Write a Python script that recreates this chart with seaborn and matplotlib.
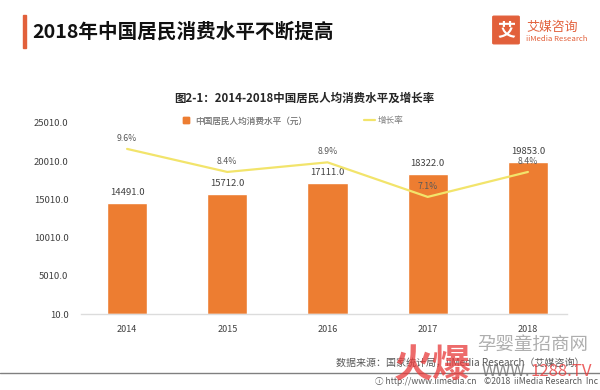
import pandas as pd
import matplotlib.pyplot as plt
import matplotlib.patches as mpatches
from matplotlib.lines import Line2D
import seaborn as sns

years = ['2014', '2015', '2016', '2017', '2018']
consumption = [14491.0, 15712.0, 17111.0, 18322.0, 19853.0]
growth = [9.6, 8.4, 8.9, 7.1, 8.4]
y_ticks = [10, 5010, 10010, 15010, 20010, 25010]

sns.set_style('white')
plt.rcParams['font.family'] = ['Noto Sans CJK SC', 'DejaVu Sans']

BAR = '#ED7D31'
LINE = '#F2E46B'
TXT = '#404040'
BRAND = '#E2603B'

df = pd.DataFrame({'year': years, 'value': consumption, 'growth': growth})

fig = plt.figure(figsize=(6, 3.9), dpi=100)
W, H = 600, 390


def fx(px):
    return px / W


def fy(py):
    return 1 - py / H


ax = fig.add_axes([fx(81), fy(314), 486 / W, 191 / H])

sns.barplot(data=df, x='year', y='value', color=BAR, width=0.4,
            saturation=1, ax=ax)
ax.set_ylim(10, 25010)
ax.set_xlim(-0.5, 4.5)
ax.set_yticks(y_ticks)
ax.set_yticklabels([f'{v:.1f}' for v in y_ticks])
ax.set_xlabel('')
ax.set_ylabel('')
ax.tick_params(axis='both', length=0, colors=TXT)
ax.tick_params(axis='y', labelsize=6.8, pad=9)
ax.tick_params(axis='x', labelsize=6.5, pad=8)
for s in ['top', 'right', 'left']:
    ax.spines[s].set_visible(False)
ax.spines['bottom'].set_color('#dcdcdc')
ax.spines['bottom'].set_linewidth(1)

for i, v in enumerate(consumption):
    ax.annotate(f'{v:.1f}', (i, v), xytext=(0, 7.5), textcoords='offset points',
                ha='center', va='center', fontsize=6.8, color=TXT)

# 增长率 on a hidden secondary axis
ax2 = ax.twinx()
sns.lineplot(x=list(range(len(years))), y=growth, color=LINE, linewidth=1.6,
             ax=ax2)
ax2.set_ylim(1.0, 10.95)
ax2.set_xlim(-0.46, 4.39)
ax2.axis('off')
for i, g in enumerate(growth):
    ax2.annotate(f'{g}%', (i, g), xytext=(0, 7.5), textcoords='offset points',
                 ha='center', va='center', fontsize=6.3, color='#595959')

# legend
leg1 = fig.legend([Line2D([], [], marker='s', linestyle='none', color=BAR,
                          markersize=4.5)],
                  ['中国居民人均消费水平（元）'], loc='center left',
                  bbox_to_anchor=(fx(183), fy(121)), frameon=False,
                  fontsize=6.2, labelcolor='#7f7f7f', handlelength=0.8,
                  handletextpad=0.6, borderpad=0, borderaxespad=0)
fig.add_artist(leg1)
fig.legend([Line2D([], [], color=LINE, linewidth=1.6)], ['增长率'],
           loc='center left', bbox_to_anchor=(fx(364), fy(121)),
           frameon=False, fontsize=6.2, labelcolor='#7f7f7f',
           handlelength=1.3, handletextpad=0.3, borderpad=0, borderaxespad=0)

# chart title
fig.text(fx(304), fy(98), '图2-1：2014-2018中国居民人均消费水平及增长率',
         ha='center', va='center', fontsize=8.25, fontweight='bold',
         color='#262626')

# header
fig.patches.append(mpatches.Rectangle((fx(23), fy(48)), 3 / W, 33 / H,
                                      transform=fig.transFigure,
                                      color=BRAND))
fig.text(fx(32), fy(32), '2018年中国居民消费水平不断提高', ha='left',
         va='center', fontsize=14.1, fontweight='bold', color='#111111')

# logo
fig.patches.append(mpatches.FancyBboxPatch((fx(494), fy(43)), 24 / W, 26 / H,
                                           boxstyle='round,pad=0.002',
                                           transform=fig.transFigure,
                                           color=BRAND))
fig.text(fx(506), fy(30), '艾', ha='center', va='center', fontsize=13,
         fontweight='bold', color='white')
fig.text(fx(526), fy(27), '艾媒咨询', ha='left', va='center',
         fontsize=9.3, color=BRAND)
fig.text(fx(526), fy(39), 'iiMedia Research', ha='left', va='center',
         fontsize=5.6, color=BRAND)

# source and footer
fig.text(fx(584), fy(363), '数据来源：国家统计局，iiMedia Research（艾媒咨询）',
         ha='right', va='center', fontsize=7.2, color='#595959')
fig.add_artist(Line2D([0, 1], [fy(373), fy(373)],
                      transform=fig.transFigure, color='#808080', linewidth=1))
fig.text(fx(598), fy(381),
         '\u24D8 http://www.iimedia.cn    ©2018  iiMedia Research  Inc',
         ha='right', va='center', fontsize=6.2, color='#595959')

# watermark
fig.text(fx(394), fy(366), '火爆', ha='left', va='center', fontsize=28,
         fontweight='bold', color='#E83A3A', alpha=0.75)
fig.text(fx(477), fy(345), '孕婴童招商网', ha='left', va='center',
         fontsize=13.3, color='#9a9a9a', alpha=0.8)
fig.text(fx(482), fy(372), 'WWW.', ha='left', va='center',
         fontsize=12, color='#707070', alpha=0.8)
fig.text(fx(530), fy(372), '1288.TV', ha='left', va='center',
         fontsize=12, color='#E83A3A', alpha=0.8)

fig.savefig('out.png', dpi=100)
